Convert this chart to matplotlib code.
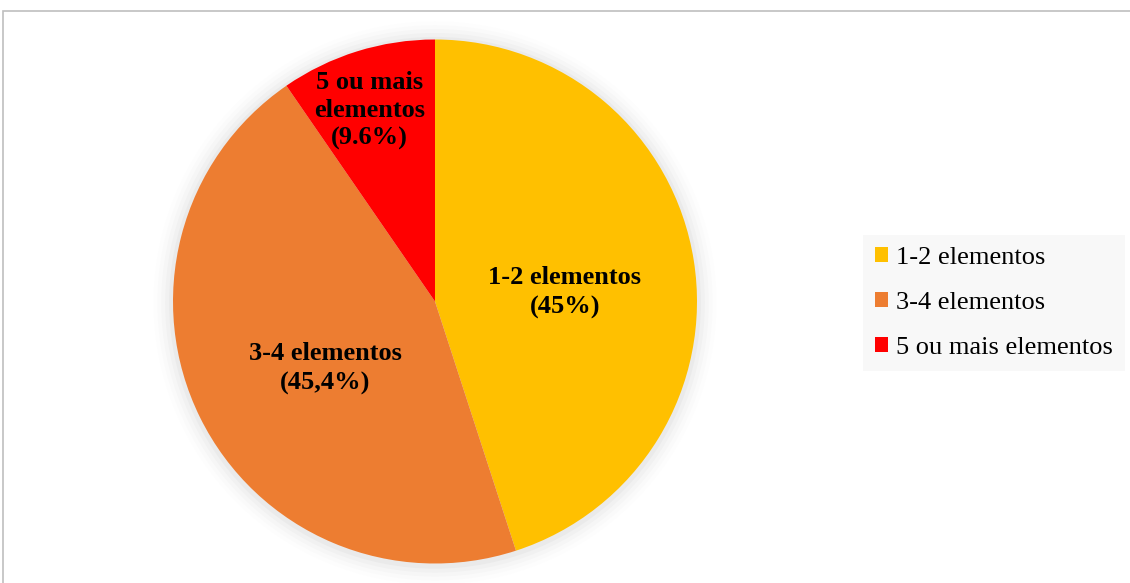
import matplotlib
matplotlib.use("Agg")
import matplotlib.pyplot as plt
from matplotlib.patches import Rectangle, Circle

categories = ["1-2 elementos", "3-4 elementos", "5 ou mais elementos"]
values = [45.0, 45.4, 9.6]
slice_labels = ["1-2 elementos\n(45%)", "3-4 elementos\n(45,4%)", "5 ou mais\nelementos\n(9.6%)"]
colors = ["#FFC000", "#ED7D31", "#FF0000"]

W, H = 1130, 583
fig = plt.figure(figsize=(W / 100, H / 100), dpi=100)
fig.patch.set_facecolor("white")

# outer border
fig.add_artist(Rectangle((3 / W, -0.1), 1.2, (H - 11) / H + 0.1, transform=fig.transFigure,
                         fill=False, edgecolor="#BFBFBF", linewidth=1.2))

cx, cy, r = 435, 301.5, 262
ax = fig.add_axes([(cx - 1.1 * r) / W, (H - cy - 1.1 * r) / H, 2.2 * r / W, 2.2 * r / H])

# soft shadow
for i, a in enumerate([0.05, 0.04, 0.03, 0.02, 0.012]):
    ax.add_patch(Circle((0, -0.005), 1.0 + 0.015 * (i + 1), color="#808080", alpha=a, lw=0, zorder=0))

wedges, _ = ax.pie(values, colors=colors, startangle=90, counterclock=False,
                   radius=1.0, wedgeprops=dict(linewidth=0))
for w in wedges:
    w.set_zorder(2)

label_pos = [(0.496, 0.035), (-0.42, -0.255), (-0.25, 0.73)]
label_ls = [1.38, 1.38, 1.27]
for (x, y), t, ls in zip(label_pos, slice_labels, label_ls):
    ax.text(x, y, t, ha="center", va="center", fontsize=19, fontweight="bold",
            family="Liberation Serif", color="black", linespacing=ls, zorder=3)

ax.set_xlim(-1.1, 1.1)
ax.set_ylim(-1.1, 1.1)
ax.set_aspect("equal")
ax.axis("off")

handles = [Rectangle((0, 0), 1, 1, facecolor=c, edgecolor="none") for c in colors]
leg = fig.legend(handles, categories, loc="upper left",
                 bbox_to_anchor=(863 / W, (H - 235) / H),
                 prop=dict(family="Liberation Serif", size=19),
                 frameon=True, fancybox=False, facecolor="#F8F8F8", edgecolor="none",
                 framealpha=1, handlelength=0.5, handleheight=0.5, handletextpad=0.3,
                 labelspacing=0.87, borderpad=0.45, borderaxespad=0)

fig.savefig("out.png", dpi=100, facecolor="white")
